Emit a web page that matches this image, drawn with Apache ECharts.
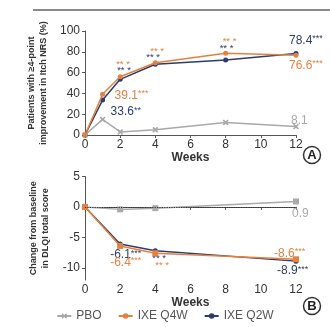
<!DOCTYPE html>
<html>
<head>
<meta charset="utf-8">
<script src="https://cdn.jsdelivr.net/npm/echarts@6/dist/echarts.min.js"></script>
<style>
  html, body { margin: 0; padding: 0; background: #fff; }
  #chart { width: 330px; height: 327px; }
</style>
</head>
<body>
<div id="chart"></div>
<script>
// Panel A: % of patients with >=4-point improvement in Itch NRS
const weeksA = [0, 1, 2, 4, 8, 12];
const pboA = [0, 15, 3, 5, 12, 8.1];
const q4wA = [0, 39.1, 56, 69.5, 78.5, 76.6];
const q2wA = [0, 33.6, 53.5, 68, 72, 78.4];

// Panel B: change from baseline in DLQI total score
const weeksB = [0, 2, 4, 12];
const pboB = [0, -0.4, -0.2, 0.9];
const q4wB = [0, -6.4, -7.6, -8.6];
const q2wB = [0, -6.1, -7.2, -8.9];

const xTicks = [0, 2, 4, 6, 8, 10, 12];
const yTicksA = [0, 20, 40, 60, 80, 100];
const yTicksB = [-10, -5, 0, 5];

const seriesNames = ['PBO', 'IXE Q4W', 'IXE Q2W'];

const C_PBO = '#a9a9a9';
const C_Q4W = '#e5813f';
const C_Q2W = '#2c3d6b';
const FONT = 'Liberation Sans, Arial, sans-serif';
const X_MARK = 'path://M2,0L5,3L8,0L10,2L7,5L10,8L8,10L5,7L2,10L0,8L3,5L0,2Z';

// value label with superscript-like significance stars
function valLabel(color, stars, dx, dy) {
  return {
    show: true, position: 'inside', align: 'left', verticalAlign: 'middle',
    offset: [dx, dy], fontFamily: FONT,
    formatter: p => '{n|' + p.value[1] + '}' + (stars ? '{s|' + stars + '}' : ''),
    rich: {
      n: { fontSize: 12, color: color, fontFamily: FONT },
      s: { fontSize: 9, color: color, fontFamily: FONT, verticalAlign: 'top', padding: [0, 0, 4, 0] }
    }
  };
}
// significance-only marker text
function starLabel(color, dx, dy) {
  return {
    show: true, position: 'inside', align: 'left', verticalAlign: 'middle',
    offset: [dx, dy], formatter: '** *', fontSize: 9.5, color: color, fontFamily: FONT
  };
}

function pts(xs, ys, labels) {
  return xs.map((x, i) => {
    const d = { value: [x, ys[i]] };
    if (labels && labels[i]) d.label = labels[i];
    return d;
  });
}

const axisCommonX = (gridIndex, labelMargin, nameGap) => ({
  type: 'value', gridIndex, min: 0, max: 12, interval: 2,
  name: 'Weeks', nameLocation: 'middle', nameGap,
  nameTextStyle: { fontSize: 12, fontWeight: 'bold', color: '#333', fontFamily: FONT },
  axisLine: { lineStyle: { color: '#555', width: 1 } },
  axisTick: { show: true, length: 3, lineStyle: { color: '#555' } },
  axisLabel: { fontSize: 12, color: '#333', margin: labelMargin, fontFamily: FONT },
  splitLine: { show: false }
});

const yNameStyle = { fontSize: 9, fontWeight: 'bold', color: '#333', fontFamily: FONT, lineHeight: 12 };

const option = {
  animation: false,
  backgroundColor: '#fff',
  grid: [
    { left: 85, top: 31, width: 211, height: 104 },
    { left: 85, top: 176.5, width: 211, height: 103.5 }
  ],
  xAxis: [axisCommonX(0, 4, 14), axisCommonX(1, 4, 17)],
  yAxis: [
    {
      type: 'value', gridIndex: 0, min: 0, max: 100, interval: 20,
      name: 'Patients with \u22654-point\nimprovement in Itch NRS (%)',
      nameLocation: 'middle', nameGap: 24, nameRotate: 90,
      nameTextStyle: yNameStyle,
      axisLine: { show: true, lineStyle: { color: '#555' } },
      axisTick: { show: true, length: 3, lineStyle: { color: '#555' } },
      axisLabel: { fontSize: 12, color: '#333', margin: 5, fontFamily: FONT },
      splitLine: { show: false }
    },
    {
      type: 'value', gridIndex: 1, min: -12, max: 5,
      name: 'Change from baseline\nin DLQI total score',
      nameLocation: 'middle', nameGap: 24, nameRotate: 90,
      nameTextStyle: yNameStyle,
      axisLine: { show: true, lineStyle: { color: '#555' } },
      axisTick: { show: true, length: 3, customValues: yTicksB, lineStyle: { color: '#555' } },
      axisLabel: { fontSize: 12, color: '#333', margin: 5, fontFamily: FONT, customValues: yTicksB },
      splitLine: { show: false }
    }
  ],
  legend: {
    data: seriesNames, bottom: 0, left: 'center', itemGap: 16, itemWidth: 14, itemHeight: 7,
    textStyle: { fontSize: 12, color: '#555', fontFamily: FONT }
  },
  series: [
    // Panel A
    {
      name: 'PBO', type: 'line', xAxisIndex: 0, yAxisIndex: 0, z: 2,
      symbol: X_MARK, symbolSize: 6, showAllSymbol: true,
      lineStyle: { color: C_PBO, width: 1.5 }, itemStyle: { color: C_PBO },
      data: pts(weeksA, pboA, [null, null, null, null, null,
        { show: true, position: 'inside', align: 'left', verticalAlign: 'middle', offset: [-5, -6],
          fontSize: 12, color: C_PBO, fontFamily: FONT }])
    },
    {
      name: 'IXE Q4W', type: 'line', xAxisIndex: 0, yAxisIndex: 0, z: 4,
      symbol: 'circle', symbolSize: 5, showAllSymbol: true,
      lineStyle: { color: C_Q4W, width: 1.5 }, itemStyle: { color: C_Q4W },
      data: pts(weeksA, q4wA, [null,
        valLabel(C_Q4W, '***', 12, 1),
        starLabel(C_Q4W, -4, -12),
        starLabel(C_Q4W, -5, -11),
        starLabel(C_Q4W, -3, -12),
        valLabel(C_Q4W, '***', -7, 10)])
    },
    {
      name: 'IXE Q2W', type: 'line', xAxisIndex: 0, yAxisIndex: 0, z: 3,
      symbol: 'circle', symbolSize: 5, showAllSymbol: true,
      lineStyle: { color: C_Q2W, width: 1.5 }, itemStyle: { color: C_Q2W },
      data: pts(weeksA, q2wA, [null,
        valLabel(C_Q2W, '**', 8, 12),
        starLabel(C_Q2W, -3, -9),
        starLabel(C_Q2W, -9, -7),
        starLabel(C_Q2W, -6, -12),
        valLabel(C_Q2W, '***', -7, -13)])
    },
    // Panel B
    {
      name: 'PBO', type: 'line', xAxisIndex: 1, yAxisIndex: 1, z: 2,
      symbol: 'rect', symbolSize: 6, showAllSymbol: true,
      lineStyle: { color: C_PBO, width: 1.5 }, itemStyle: { color: C_PBO },
      data: pts(weeksB, pboB, [null, null, null,
        { show: true, position: 'inside', align: 'left', verticalAlign: 'middle', offset: [-4, 12],
          fontSize: 12, color: C_PBO, fontFamily: FONT }]),
      markLine: {
        silent: true, symbol: 'none', label: { show: false },
        lineStyle: { color: '#333', type: 'dotted', width: 1.2 },
        data: [{ yAxis: 0 }]
      }
    },
    {
      name: 'IXE Q4W', type: 'line', xAxisIndex: 1, yAxisIndex: 1, z: 4,
      symbol: 'rect', symbolSize: 6, showAllSymbol: true,
      lineStyle: { color: C_Q4W, width: 1.5 }, itemStyle: { color: C_Q4W },
      data: pts(weeksB, q4wB, [null,
        valLabel(C_Q4W, '***', -10, 17),
        starLabel(C_Q4W, 0, 12),
        valLabel(C_Q4W, '***', -22, -6)])
    },
    {
      name: 'IXE Q2W', type: 'line', xAxisIndex: 1, yAxisIndex: 1, z: 3,
      symbol: 'circle', symbolSize: 5, showAllSymbol: true,
      lineStyle: { color: C_Q2W, width: 1.5 }, itemStyle: { color: C_Q2W },
      data: pts(weeksB, q2wB, [null,
        valLabel(C_Q2W, '***', -10, 11),
        starLabel(C_Q2W, -3, 8),
        valLabel(C_Q2W, '***', -19, 10)])
    }
  ],
  graphic: [
    { type: 'line', shape: { x1: 33, y1: 10, x2: 330, y2: 10 }, style: { stroke: '#8a8a8a', lineWidth: 2 } },
    { type: 'circle', shape: { cx: 312, cy: 155, r: 8.5 }, style: { fill: '#fff', stroke: '#333', lineWidth: 1.5 } },
    { type: 'text', x: 312, y: 155, style: { text: 'A', fontSize: 13, fontWeight: 'bold', fill: '#222', align: 'center', verticalAlign: 'middle', fontFamily: FONT } },
    { type: 'circle', shape: { cx: 312, cy: 306, r: 8.5 }, style: { fill: '#fff', stroke: '#333', lineWidth: 1.5 } },
    { type: 'text', x: 312, y: 306, style: { text: 'B', fontSize: 13, fontWeight: 'bold', fill: '#222', align: 'center', verticalAlign: 'middle', fontFamily: FONT } }
  ]
};

const chart = echarts.init(document.getElementById('chart'), null, { renderer: 'canvas' });
chart.setOption(option);
</script>
</body>
</html>
